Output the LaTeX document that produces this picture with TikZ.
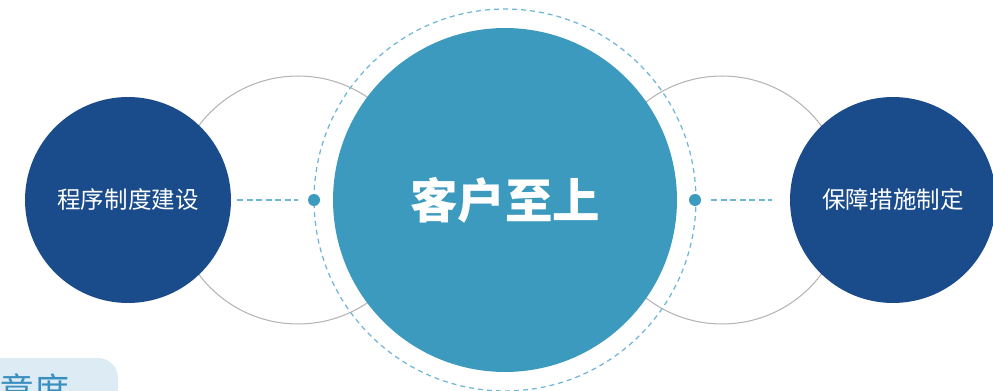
\documentclass[tikz,border=0pt]{standalone}
\usepackage{fontspec}
\setmainfont{Noto Sans CJK SC}
\usetikzlibrary{positioning}
\definecolor{deepblue}{HTML}{1A4B8A}
\definecolor{midblue}{HTML}{3D9ABF}
\definecolor{dashblue}{HTML}{6DB6D6}
\definecolor{ringgray}{HTML}{B4B4B4}
\definecolor{tagblue}{HTML}{DCEBF4}
\definecolor{tagtext}{HTML}{3A8FC0}
\tikzset{
  ring/.style={circle,draw=ringgray,line width=0.6pt,inner sep=0pt,minimum size=4.96cm},
  sidebox/.style={circle,fill=deepblue,inner sep=0pt,minimum size=4.12cm,text=white,font=\fontsize{13.4}{15}\selectfont},
  dotmark/.style={circle,fill=midblue,inner sep=0pt,minimum size=0.24cm},
  dashline/.style={dashblue,line width=0.9pt,dash pattern=on 0.12cm off 0.07cm}
}
\begin{document}
\begin{tikzpicture}[x=0.02cm,y=-0.02cm]
\useasboundingbox (0,0) rectangle (993,391);
\clip (0,0) rectangle (993,391);
% back rings
\node[ring] (lring) at (298,200) {};
\node[ring] (rring) at (722,200) {};
% dashed orbit round the centre
\node[circle,draw=dashblue,line width=0.7pt,dash pattern=on 0.1cm off 0.08cm,inner sep=0pt,minimum size=7.64cm] (orbit) at (505,200) {};
\node[circle,fill=midblue,inner sep=0pt,minimum size=6.88cm,text=white,font=\fontsize{27}{30}\selectfont\bfseries] (core) at (505,200) {客户至上};
% side circles
\node[sidebox] (prog) at (128,200) {程序制度建设};
\node[sidebox] (guard) at (893,200) {保障措施制定};
% dots on the orbit
\node[dotmark] (ldot) at (314,200) {};
\node[dotmark] (rdot) at (695,200) {};
\draw[dashline] ([xshift=0.12cm]prog.east) -- ([xshift=-0.2cm]ldot.west);
\draw[dashline] ([xshift=0.2cm]rdot.east) -- ([xshift=-0.36cm]guard.west);
% cut tag at the bottom
\fill[tagblue,rounded corners=0.4cm] (-40,358) rectangle (118,430);
\node[anchor=base east,text=tagtext,font=\fontsize{20}{24}\selectfont,inner sep=0pt] (tag) at (70,403) {意度};
\end{tikzpicture}
\end{document}
